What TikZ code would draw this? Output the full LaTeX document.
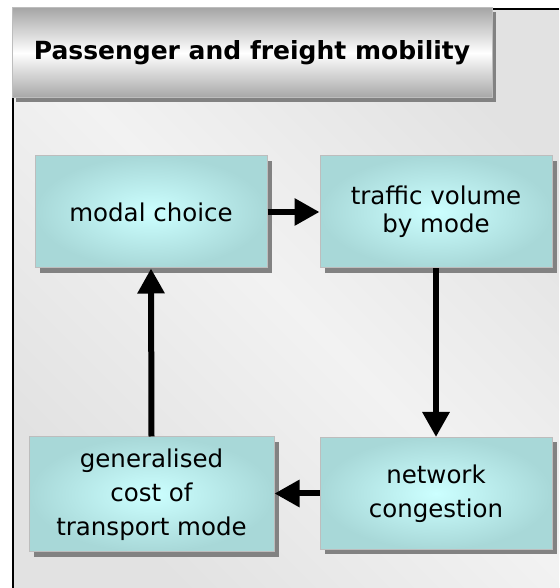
\documentclass[tikz,border=0pt]{standalone}
\usepackage{fontspec}
\setmainfont{DejaVu Sans}
\usetikzlibrary{arrows.meta,shadows}
\definecolor{panelmid}{HTML}{F2F2F2}
\definecolor{paneledge}{HTML}{E2E2E2}
\definecolor{hdrgray}{HTML}{A6A6A6}
\definecolor{shadowgray}{HTML}{828282}
\definecolor{boxmid}{HTML}{CCFFFF}
\definecolor{boxedge}{HTML}{A8D8D8}
\definecolor{boxline}{HTML}{BDBDBD}
\begin{document}
\begin{tikzpicture}[x=1pt,y=1pt,
    modebox/.style={draw=boxline, line width=1pt, inner color=boxmid, outer color=boxedge,
      minimum width=232pt, minimum height=112pt, align=center,
      font=\fontsize{24.5}{34}\selectfont,
      general shadow={shadow xshift=5pt, shadow yshift=-5pt, fill=shadowgray}},
    flow/.style={line width=6pt, -{Triangle[length=25pt,width=26pt]}}]
			\useasboundingbox (0,0) rectangle (559,588);
			\shade[top color=paneledge, bottom color=paneledge, middle color=panelmid, shading angle=-45] (13,0) rectangle (559,579);
			\draw[line width=2pt] (13,0)--(13,579)--(559,579);
			\node[draw=boxline, line width=1pt, top color=hdrgray, bottom color=hdrgray, middle color=white,
			  minimum width=480pt, minimum height=90pt, font=\fontsize{25}{30}\selectfont\bfseries,
			  general shadow={shadow xshift=4pt, shadow yshift=-4pt, fill=shadowgray}]
			  (title) at (252,535) {Passenger and freight mobility};
			\node[modebox] (modal) at (151,376) {modal choice};
			\node[modebox, font=\fontsize{24.5}{28}\selectfont] (volume) at (436,376) {traffic volume\\by mode};
			\node[modebox, minimum width=245pt, minimum height=115pt] (cost) at (151.5,93.5) {generalised\\cost of\\transport mode};
			\node[modebox] (congestion) at (436,94.5) {network\\congestion};
			\draw[flow] (modal.east)--(volume.west);
			\draw[flow] (volume.south)--(congestion.north);
			\draw[flow] (congestion.west)--(congestion.west -| cost.east);
			\draw[flow] (cost.north)--(modal.south);
			\end{tikzpicture}
\end{document}
